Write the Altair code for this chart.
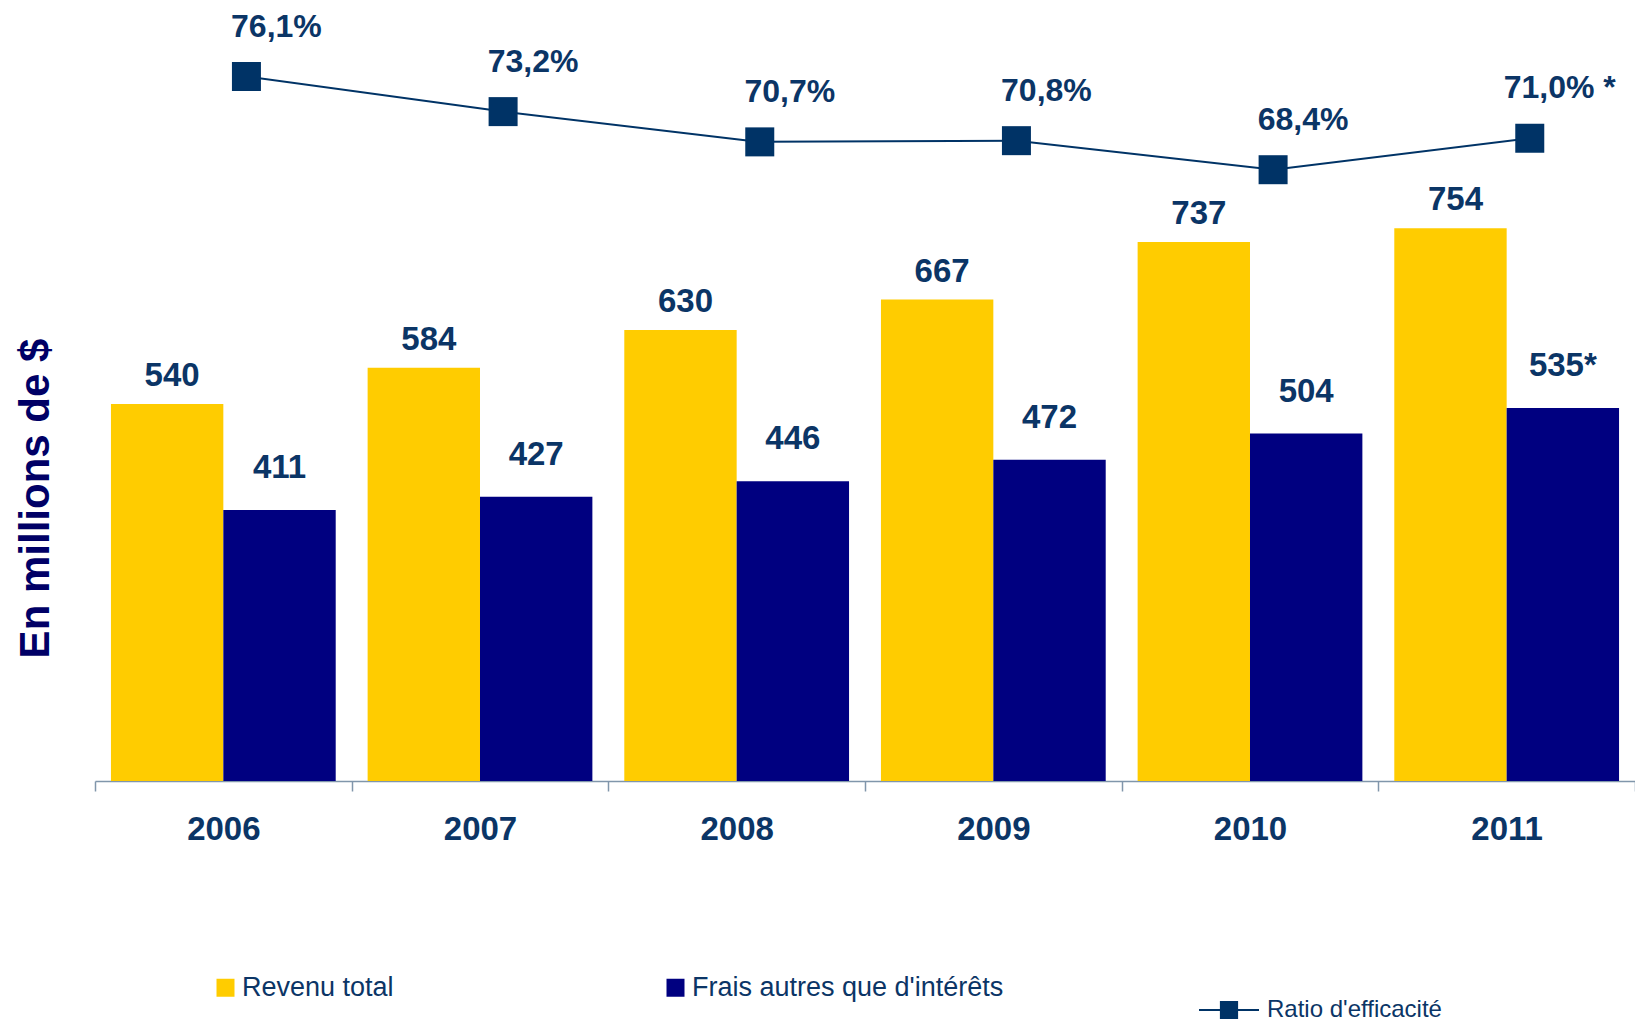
import altair as alt
import pandas as pd

# ---- data ----
years = ["2006", "2007", "2008", "2009", "2010", "2011"]
revenu = [540, 584, 630, 667, 737, 754]
revenu_labels = ["540", "584", "630", "667", "737", "754"]
frais = [411, 427, 446, 472, 504, 535]
frais_labels = ["411", "427", "446", "472", "504", "535*"]
ratio = [76.1, 73.2, 70.7, 70.8, 68.4, 71.0]
ratio_labels = ["76,1%", "73,2%", "70,7%", "70,8%", "68,4%", "71,0% *"]

s_rev = "Revenu total"
s_frais = "Frais autres que d'intérêts"
s_ratio = "Ratio d'efficacité"

bars_df = pd.DataFrame(
    {
        "year": years + years,
        "series": [s_rev] * len(years) + [s_frais] * len(years),
        "value": revenu + frais,
        "label": revenu_labels + frais_labels,
    }
)
ratio_df = pd.DataFrame(
    {"year": years, "series": [s_ratio] * len(years), "ratio": ratio, "label": ratio_labels}
)

FONT = "Liberation Sans"
LABEL_COLOR = "#0b3566"
AXIS_COLOR = "#8096ab"

x_axis = alt.Axis(
    title=None,
    labelAngle=0,
    tickBand="extent",
    tickSize=10,
    tickWidth=1.5,
    tickColor=AXIS_COLOR,
    domainColor=AXIS_COLOR,
    domainWidth=1.5,
    labelFont=FONT,
    labelFontSize=33,
    labelFontWeight="bold",
    labelColor=LABEL_COLOR,
    labelPadding=22,
)
x_scale = alt.Scale(paddingInner=0, paddingOuter=0)
x_enc = alt.X("year:N", sort=years, scale=x_scale, axis=x_axis)

y_bar_scale = alt.Scale(domain=[81, 1022], nice=False, zero=False, clamp=True)
y_bar_axis = alt.Axis(
    title="En millions de $",
    labels=False,
    ticks=False,
    domain=False,
    grid=False,
    titleFont=FONT,
    titleFontSize=42,
    titleFontWeight="bold",
    titleColor="#000066",
    titleAngle=270,
    titleX=-60,
    titleY=490,
    titleAlign="center",
    titleBaseline="middle",
)
y_bar = alt.Y("value:Q", scale=y_bar_scale, axis=y_bar_axis)

offset = alt.XOffset(
    "series:N", sort=[s_rev, s_frais], scale=alt.Scale(paddingInner=0, paddingOuter=0.142)
)

bars = (
    alt.Chart(bars_df)
    .mark_bar(clip=False)
    .encode(
        x=x_enc,
        xOffset=offset,
        y=y_bar,
        color=alt.Color(
            "series:N",
            scale=alt.Scale(domain=[s_rev, s_frais], range=["#FFCC00", "#000080"]),
            legend=alt.Legend(
                title=None,
                orient="none",
                direction="horizontal",
                columns=2,
                legendX=117,
                legendY=966,
                padding=0,
                symbolType="square",
                symbolSize=324,
                symbolStrokeWidth=0,
                symbolOpacity=1,
                labelFont=FONT,
                labelFontSize=27,
                labelColor=LABEL_COLOR,
                labelOffset=3,
                labelLimit=600,
                columnPadding=268,
            ),
        ),
    )
)

rev_labels = (
    alt.Chart(bars_df)
    .transform_filter(alt.datum.series == s_rev)
    .mark_text(font=FONT, fontSize=33, fontWeight="bold", color=LABEL_COLOR, baseline="alphabetic", dy=-18, dx=5)
    .encode(x=x_enc, xOffset=offset, y=y_bar, text="label:N")
)
frais_lab = (
    alt.Chart(bars_df)
    .transform_filter(alt.datum.series == s_frais)
    .mark_text(font=FONT, fontSize=33, fontWeight="bold", color=LABEL_COLOR, baseline="alphabetic", dy=-32)
    .encode(x=x_enc, xOffset=offset, y=y_bar, text="label:N")
)

bar_group = alt.layer(bars, rev_labels, frais_lab)

# ---- line (efficiency ratio) ----
y_ratio_scale = alt.Scale(domain=[17.9, 81.76], nice=False, zero=False)
x_line = alt.X("year:N", sort=years, bandPosition=0.59, scale=x_scale, axis=x_axis)
y_line = alt.Y("ratio:Q", scale=y_ratio_scale, axis=None)

line = alt.Chart(ratio_df).mark_line(color="#003366", strokeWidth=2).encode(x=x_line, y=y_line)

sym_path = "M-1,0H1M-0.27,-0.27H0.27V0.27H-0.27Z"
ratio_legend = alt.Legend(
    title=None,
    orient="none",
    legendX=1103,
    legendY=971,
    padding=0,
    symbolType=sym_path,
    symbolSize=3600,
    symbolStrokeWidth=2,
    symbolOpacity=1,
    labelFont=FONT,
    labelFontSize=24,
    labelColor=LABEL_COLOR,
    labelOffset=7,
    labelLimit=400,
)
ratio_scale = alt.Scale(domain=[s_ratio], range=["#003366"])

points = (
    alt.Chart(ratio_df)
    .mark_point(shape="square", filled=True, size=841, opacity=1, strokeWidth=0)
    .encode(
        x=x_line,
        y=y_line,
        fill=alt.Fill("series:N", scale=ratio_scale, legend=ratio_legend),
        stroke=alt.Stroke("series:N", scale=ratio_scale, legend=ratio_legend),
    )
)

ratio_text = (
    alt.Chart(ratio_df)
    .mark_text(font=FONT, fontSize=32, fontWeight="bold", color=LABEL_COLOR, baseline="middle", dx=30, dy=-50)
    .encode(x=x_line, y=y_line, text="label:N")
)

line_group = alt.layer(line, points, ratio_text)

chart = (
    alt.layer(bar_group, line_group)
    .resolve_scale(y="independent", color="independent")
    .properties(
        width=1540,
        height=773,
        padding={"left": 87, "top": 0, "right": 0, "bottom": 240},
        autosize=alt.AutoSizeParams(type="none"),
    )
    .configure_view(stroke=None)
)

chart.save("out.html", embed_options={"renderer": "svg", "actions": False})
